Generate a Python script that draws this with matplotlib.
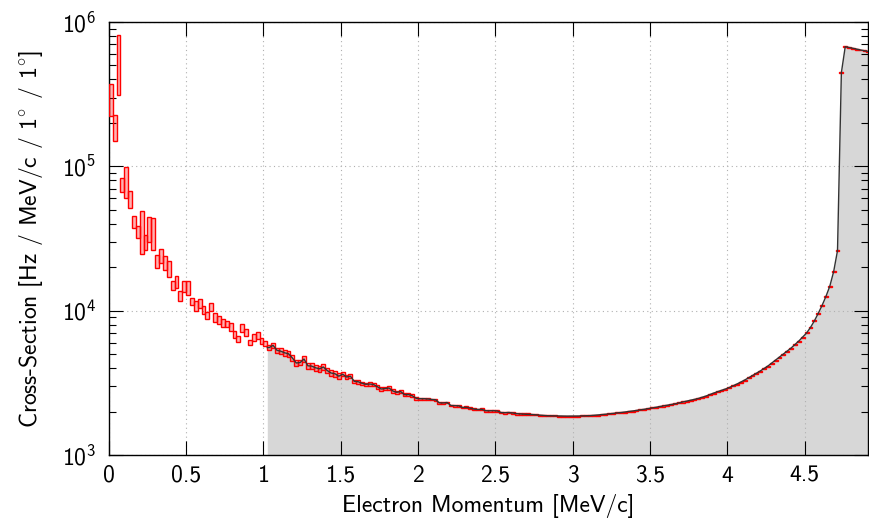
import numpy as np
import matplotlib.pyplot as plt
from matplotlib.ticker import NullLocator

plt.rcParams['font.family'] = ['cmss10', 'DejaVu Sans']
plt.rcParams['mathtext.fontset'] = 'custom'
plt.rcParams['mathtext.rm'] = 'cmss10'
plt.rcParams['mathtext.it'] = 'cmss10'
plt.rcParams['mathtext.bf'] = 'cmss10'
plt.rcParams['axes.formatter.use_mathtext'] = True
plt.rcParams['font.size'] = 17

# momentum bins of 25 keV/c starting at 0
bin_width = 0.025

rate = [
    3.0e5, 1.88e5, 5.6e5, 7.5e4, 7.95e4, 5.98e4, 4.15e4, 3.53e4, 3.7e4, 3.0e4,
    3.71e4, 3.5e4, 2.21e4, 2.41e4, 2.16e4, 1.96e4, 1.5e4, 1.59e4, 1.27e4, 1.48e4,
    1.44e4, 1.17e4, 1.08e4, 1.12e4, 1.015e4, 9300, 10700, 8960, 8630, 8250,
    8100, 7740, 6900, 6400, 7600, 7070, 6040, 6550, 6740, 6200,
    5935, 5569, 5767, 5327, 5251, 5119, 5038, 4711, 4350, 4385,
    4637, 4160, 4140, 4030, 3967, 4082, 3860, 3709, 3668, 3525,
    3639, 3480, 3525, 3249, 3228, 3147, 3097, 3112, 3087, 2981,
    2873, 2896, 2919, 2783, 2726, 2761, 2624, 2633, 2582, 2478,
    2463, 2463, 2451, 2432, 2420, 2307, 2299, 2318, 2210, 2203,
    2199, 2140, 2147, 2116, 2083, 2073, 2079, 2033, 2030, 2036,
    2023, 1975, 1969, 1978, 1959, 1941, 1932, 1922, 1919, 1913,
    1904, 1892, 1883, 1877, 1874, 1874, 1868, 1868, 1865, 1865,
    1865, 1868, 1871, 1874, 1880, 1889, 1898, 1910, 1922, 1935,
    1950, 1963, 1975, 1991, 2007, 2023, 2040, 2059, 2079, 2099,
    2123, 2147, 2171, 2192, 2217, 2245, 2270, 2303, 2336, 2370,
    2404, 2435, 2471, 2518, 2570, 2633, 2696, 2753, 2814, 2873,
    2943, 3024, 3112, 3213, 3317, 3436, 3564, 3692, 3829, 3985,
    4147, 4350, 4563, 4786, 5022, 5268, 5525, 5841, 6178, 6585,
    7020, 7662, 8501, 9579, 10880, 12560, 14780, 18660, 26090, 445700,
    674500, 666000, 657500, 648100, 639900, 631800, 624800,
]

rate_err = [
    7.5e4, 3.9e4, 2.5e5, 8000, 19000, 8000, 4200, 3500, 12300, 3700,
    7300, 8700, 2200, 2600, 2400, 2500, 1100, 1600, 1000, 1400,
    1600, 650, 800, 800, 650, 540, 700, 640, 530, 490,
    430, 460, 370, 290, 450, 410, 240, 330, 360, 310,
    267, 250, 260, 240, 236, 230, 227, 212, 196, 197,
    209, 187, 186, 181, 179, 184, 174, 167, 165, 159,
    110, 105, 105, 95, 95, 90, 90, 90, 90, 85,
    80, 80, 80, 75, 75, 75, 70, 70, 65, 65,
    38, 38, 37, 37, 36, 35, 35, 35, 34, 34,
    33, 33, 33, 32, 32, 32, 31, 31, 31, 31,
    30, 30, 30, 29, 29, 29, 29, 29, 29, 28,
    15, 15, 15, 15, 15, 15, 15, 15, 15, 15,
    15, 15, 15, 15, 15, 15, 15, 15, 15, 15,
    16, 16, 16, 16, 16, 16, 16, 16, 17, 17,
    17, 17, 17, 18, 18, 18, 18, 18, 19, 19,
    19, 20, 20, 20, 21, 21, 22, 22, 23, 23,
    24, 24, 25, 26, 27, 28, 29, 30, 31, 32,
    33, 35, 37, 38, 40, 42, 44, 47, 49, 53,
    56, 61, 68, 77, 87, 100, 120, 150, 210, 3500,
    5000, 5000, 5000, 5000, 5000, 5000, 5000,
]

# grey band (black curve) is only shown above this momentum
cut = 1.025

xticks = [0, 0.5, 1, 1.5, 2, 2.5, 3, 3.5, 4, 4.5]

rate = np.array(rate, dtype=float)
rate_err = np.array(rate_err, dtype=float)
p = bin_width * (np.arange(len(rate)) + 0.5)

fig = plt.figure(figsize=(8.69, 5.2), dpi=100)
ax = fig.add_axes([0.1252, 0.1246, 0.8737, 0.8331])

sel = p > cut
line_x = np.r_[cut, p[sel]]
line_y = np.r_[rate[sel][0], rate[sel]]
ax.fill_between(line_x, line_y, 1e3, color='#d7d7d7', lw=0, zorder=0.2)
ax.plot(line_x, line_y, color='#333333', lw=1.0, zorder=4)

# error boxes
ax.bar(p, 2 * rate_err, bottom=rate - rate_err, width=bin_width,
       color=(1, 0, 0, 0.3), edgecolor='red', linewidth=1.0, zorder=3)

ax.set_yscale('log')
ax.set_ylim(1e3, 1e6)
ax.set_xlim(0, 4.91)
ax.set_xticks(xticks)
ax.set_xticklabels(['%g' % t for t in xticks])
ax.xaxis.set_minor_locator(NullLocator())

ax.tick_params(which='both', direction='in', top=True, right=True, width=0.8)
ax.tick_params(which='major', length=10, pad=7)
ax.tick_params(which='minor', length=5)
ax.tick_params(axis='y', which='major', pad=9)
ax.grid(True, which='major', linestyle=(0, (1, 3)), color='#b0b0b0', lw=0.8)
ax.set_axisbelow('line')
for s in ax.spines.values():
    s.set_linewidth(1.0)

ax.set_xlabel('Electron Momentum [MeV/c]', labelpad=5)
ax.set_ylabel(r'Cross-Section [Hz / MeV/c / $1^{\circ}$ / $1^{\circ}$]', labelpad=12)

fig.savefig('out.png', dpi=100)
